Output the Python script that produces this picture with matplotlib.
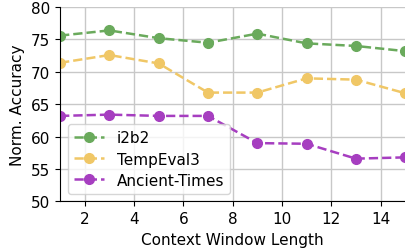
import numpy as np
import matplotlib.pyplot as plt

window = [1, 3, 5, 7, 9, 11, 13, 15]
i2b2 = [75.6, 76.4, 75.2, 74.5, 75.9, 74.4, 74.0, 73.2]
tempeval3 = [71.4, 72.6, 71.3, 66.8, 66.8, 69.0, 68.8, 66.7]
ancient = [63.2, 63.4, 63.2, 63.2, 59.0, 58.9, 56.6, 56.8]

series = [
    ('i2b2', i2b2, '#6aaa5c'),
    ('TempEval3', tempeval3, '#f0c766'),
    ('Ancient-Times', ancient, '#a63ec0'),
]

fig = plt.figure(figsize=(4.06, 2.53), dpi=100)
ax = fig.add_axes([0.148, 0.20, 0.85, 0.768])

for name, vals, color in series:
    ax.plot(window, vals, linestyle='--', marker='o', color=color,
            linewidth=1.8, markersize=7, label=name)

ax.set_xlim(1, 15)
ax.set_ylim(50, 80)
ax.set_xticks([2, 4, 6, 8, 10, 12, 14])
ax.set_yticks([50, 55, 60, 65, 70, 75, 80])
ax.tick_params(labelsize=11)
ax.grid(True, color='#c8c8c8', linewidth=1)
ax.set_axisbelow(True)
for s in ['top', 'right']:
    ax.spines[s].set_visible(False)

ax.set_xlabel('Context Window Length', fontsize=11)
ax.set_ylabel('Norm. Accuracy', fontsize=11)
ax.legend(loc='lower left', fontsize=11, framealpha=0.8, labelspacing=0.4)

fig.savefig('out.png', dpi=100)
